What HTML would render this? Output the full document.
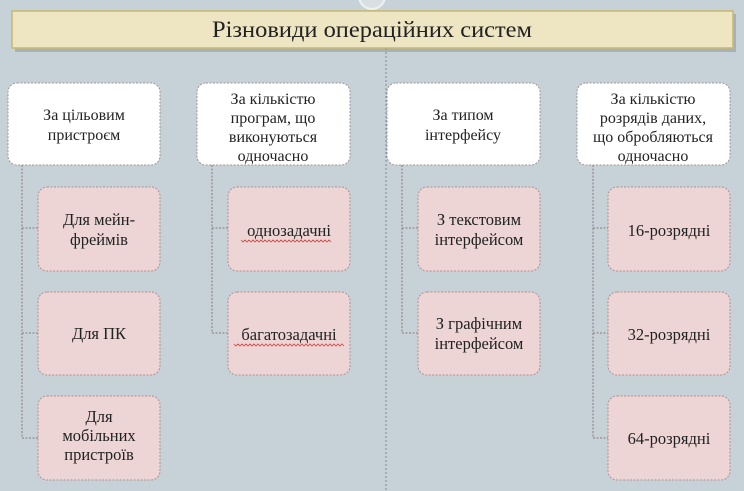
<!DOCTYPE html>
<html><head><meta charset="utf-8"><style>
html,body{margin:0;padding:0;width:744px;height:491px;overflow:hidden;background:#c7d2d8;}
svg{display:block}
text{font-family:"Liberation Serif","DejaVu Serif",serif;fill:#222;}
</style></head><body>
<svg width="744" height="491" viewBox="0 0 744 491" xmlns="http://www.w3.org/2000/svg">
<rect width="744" height="491" fill="#c7d2d8"/>
<circle cx="372" cy="-4" r="13" fill="#d9e0e4" stroke="#eef2f4" stroke-width="2"/>
<line x1="386" y1="48" x2="386" y2="491" stroke="#7a8a99" stroke-width="1" stroke-dasharray="2,2"/>
<rect x="15" y="14" width="721" height="38" fill="#8a9098" opacity="0.5"/>
<rect x="12" y="11" width="721" height="37" fill="#eee5c3" stroke="#c9b86a" stroke-width="1.5"/>
<text x="372" y="37" font-size="23" text-anchor="middle" style="font-stretch:condensed" textLength="320" lengthAdjust="spacingAndGlyphs">Різновиди операційних систем</text>
<g stroke="#8a7a7a" stroke-width="1" stroke-dasharray="2,1.5" fill="none">
<path d="M22 165 V438 H38 M22 228 H38 M22 333 H38"/>
<path d="M212 165 V333 H228 M212 228 H228"/>
<path d="M402 165 V333 H418 M402 228 H418"/>
<path d="M593 165 V438 H608 M593 228 H608 M593 333 H608"/>
</g>
<g fill="#fff" stroke="#a09595" stroke-width="1" stroke-dasharray="2,1.5">
<rect x="8" y="83" width="152" height="82" rx="9"/>
<rect x="197" y="83" width="153" height="82" rx="9"/>
<rect x="387" y="83" width="153" height="82" rx="9"/>
<rect x="577" y="83" width="153" height="82" rx="9"/>
</g>
<g fill="#ecd5d4" stroke="#b09090" stroke-width="1" stroke-dasharray="2,1.5">
<rect x="38" y="187" width="122" height="84" rx="9"/>
<rect x="38" y="292" width="122" height="83" rx="9"/>
<rect x="38" y="396" width="122" height="84" rx="9"/>
<rect x="228" y="187" width="122" height="84" rx="9"/>
<rect x="228" y="292" width="122" height="83" rx="9"/>
<rect x="418" y="187" width="122" height="84" rx="9"/>
<rect x="418" y="292" width="122" height="83" rx="9"/>
<rect x="608" y="187" width="122" height="84" rx="9"/>
<rect x="608" y="292" width="122" height="83" rx="9"/>
<rect x="608" y="396" width="122" height="84" rx="9"/>
</g>
<g font-size="16" text-anchor="middle">
<text x="84" y="120">За цільовим</text>
<text x="84" y="140">пристроєм</text>
<text x="273" y="104">За кількістю</text>
<text x="273" y="123">програм, що</text>
<text x="273" y="142">виконуються</text>
<text x="273" y="161">одночасно</text>
<text x="463" y="120">За типом</text>
<text x="463" y="140">інтерфейсу</text>
<text x="653" y="104">За кількістю</text>
<text x="653" y="123">розрядів даних,</text>
<text x="653" y="142">що обробляються</text>
<text x="653" y="161">одночасно</text>
</g>
<g font-size="16.5" text-anchor="middle">
<text x="99" y="225">Для мейн-</text>
<text x="99" y="245">фреймів</text>
<text x="99" y="339">Для ПК</text>
<text x="99" y="422">Для</text>
<text x="99" y="441">мобільних</text>
<text x="99" y="460">пристроїв</text>
<text x="289" y="236">однозадачні</text>
<text x="289" y="340">багатозадачні</text>
<text x="479" y="225">З текстовим</text>
<text x="479" y="245">інтерфейсом</text>
<text x="479" y="329">З графічним</text>
<text x="479" y="349">інтерфейсом</text>
<text x="669" y="236">16-розрядні</text>
<text x="669" y="340">32-розрядні</text>
<text x="669" y="444">64-розрядні</text>
</g>
<g stroke="#d04040" stroke-width="0.8" fill="none">
<path d="M241 240 l2 2 l2 -2 l2 2 l2 -2 l2 2 l2 -2 l2 2 l2 -2 l2 2 l2 -2 l2 2 l2 -2 l2 2 l2 -2 l2 2 l2 -2 l2 2 l2 -2 l2 2 l2 -2 l2 2 l2 -2 l2 2 l2 -2 l2 2 l2 -2 l2 2 l2 -2 l2 2 l2 -2 l2 2 l2 -2 l2 2 l2 -2 l2 2 l2 -2 l2 2 l2 -2 l2 2 l2 -2 l2 2 l2 -2 l2 2 l2 -2 l2 2"/>
<path d="M234 344 l2 2 l2 -2 l2 2 l2 -2 l2 2 l2 -2 l2 2 l2 -2 l2 2 l2 -2 l2 2 l2 -2 l2 2 l2 -2 l2 2 l2 -2 l2 2 l2 -2 l2 2 l2 -2 l2 2 l2 -2 l2 2 l2 -2 l2 2 l2 -2 l2 2 l2 -2 l2 2 l2 -2 l2 2 l2 -2 l2 2 l2 -2 l2 2 l2 -2 l2 2 l2 -2 l2 2 l2 -2 l2 2 l2 -2 l2 2 l2 -2 l2 2 l2 -2 l2 2 l2 -2 l2 2 l2 -2 l2 2 l2 -2 l2 2 l2 -2 l2 2"/>
</g>
</svg>
</body></html>
